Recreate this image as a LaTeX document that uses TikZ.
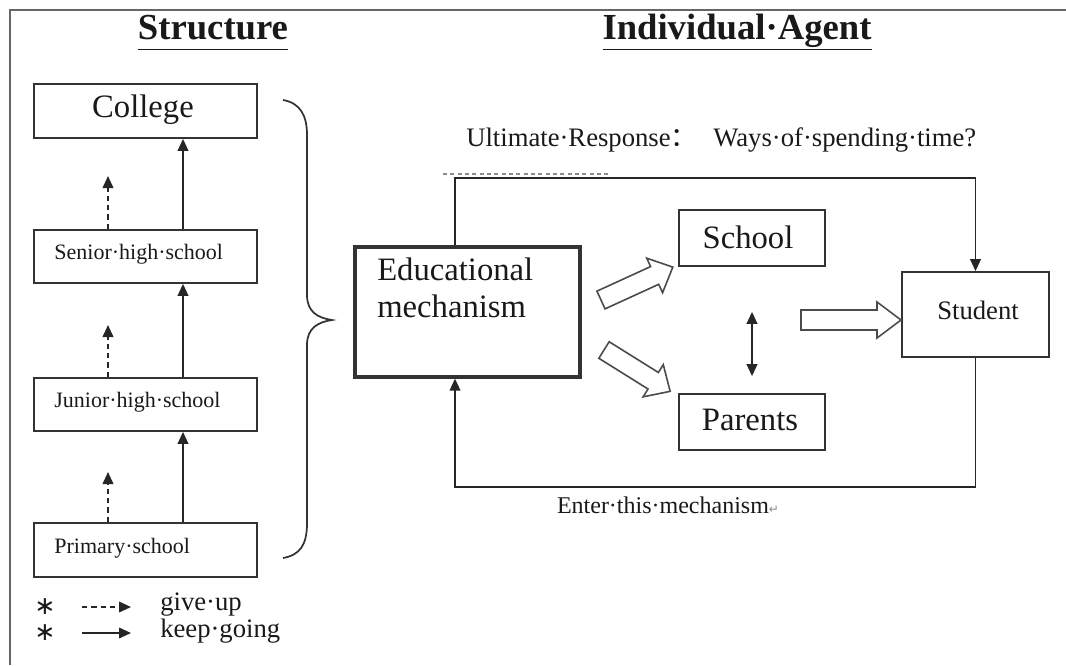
\documentclass[tikz,border=0pt]{standalone}
\usepackage{fontspec}
\setmainfont{Liberation Serif}
\newfontfamily\cjk{Noto Sans CJK SC}
\newfontfamily\djv{DejaVu Sans}
\usetikzlibrary{arrows.meta,calc}
\newcommand{\fTitle}{\fontsize{27.5}{30}\selectfont\bfseries}
\newcommand{\fBig}{\fontsize{24.5}{27.75}\selectfont}
\newcommand{\fSch}{\fontsize{16.5}{19}\selectfont}
\newcommand{\fStu}{\fontsize{20}{23}\selectfont}
\newcommand{\fUlt}{\fontsize{20}{22}\selectfont}
\newcommand{\fEnt}{\fontsize{18}{20}\selectfont}
\newcommand{\fLeg}{\fontsize{20}{23}\selectfont}
\newcommand{\fStar}{\djv\fontsize{19}{20}\selectfont}
\newcommand{\retmark}{{\djv\fontsize{9}{10}\selectfont\textcolor{black!45}{↵}}}
\begin{document}
\begin{tikzpicture}[x=0.75pt,y=-0.75pt,
  ln/.style={draw=black!80, line width=1.3pt},
  box/.style={draw=black!80, line width=1.3pt, rectangle, inner sep=0pt},
  txt/.style={text=black!90, inner sep=0pt},
  arr/.style={draw=black!85, line width=1.3pt, -{Triangle[length=9pt,width=8pt]}},
  dasharr/.style={arr, dash pattern=on 4pt off 3pt},
  dbl/.style={draw=black!85, line width=1.3pt, {Triangle[length=9pt,width=8pt]}-{Triangle[length=9pt,width=8pt]}},
  hol/.style={draw=black!70, line width=1.2pt, fill=white, line join=miter}
]
\useasboundingbox (0,0) rectangle (1066,665);

% frame
\draw[draw=black!60, line width=1.5pt] (1066,10) -- (10,10) -- (10,665);

% titles
\node[txt, font=\fTitle, anchor=base] (tstruct) at (213,39) {\underline{Structure\vphantom{g}}};
\node[txt, font=\fTitle, anchor=base] (tagent) at (737,39) {\underline{Individual·Agent\vphantom{g}}};

% structure boxes
\node[box, minimum width=167.25pt, minimum height=40.5pt] (col) at (145.5,111) {};
\node[txt, font=\fBig] (colt) at (143,110) {College};
\node[box, minimum width=167.25pt, minimum height=39.75pt] (sen) at (145.5,256.5) {};
\node[txt, font=\fSch, anchor=west] (sent) at ($(sen.west)+(21,-2)$) {Senior·high·school};
\node[box, minimum width=167.25pt, minimum height=39.75pt] (jun) at (145.5,404.5) {};
\node[txt, font=\fSch, anchor=west] (junt) at ($(jun.west)+(21,-2)$) {Junior·high·school};
\node[box, minimum width=167.25pt, minimum height=40.5pt] (pri) at (145.5,550) {};
\node[txt, font=\fSch, anchor=west] (prit) at ($(pri.west)+(21,-2)$) {Primary·school};

\coordinate (sx) at (183,0);
\coordinate (dx) at (108,0);
\draw[arr] (pri.north -| sx) -- (jun.south -| sx);
\draw[arr] (jun.north -| sx) -- (sen.south -| sx);
\draw[arr] (sen.north -| sx) -- (col.south -| sx);
\coordinate (d1) at (108,472);
\coordinate (d2) at (108,325);
\coordinate (d3) at (108,176);
\draw[dasharr] (pri.north -| dx) -- (d1);
\draw[dasharr] (jun.north -| dx) -- (d2);
\draw[dasharr] (sen.north -| dx) -- (d3);

% brace
\draw[ln] (283,100) .. controls (300,103) and (307,115) .. (307,135) -- (307,295)
  .. controls (307,312) and (318,318) .. (332,320)
  .. controls (318,322) and (307,328) .. (307,345) -- (307,523)
  .. controls (307,545) and (300,555) .. (283,558);

% legend
\node[txt, font=\fStar] (s1) at (45,607) {∗};
\node[txt, font=\fStar] (s2) at (45,633) {∗};
\coordinate (l1a) at (82,607); \coordinate (l1b) at (131,607);
\coordinate (l2a) at (82,633); \coordinate (l2b) at (131,633);
\draw[dasharr] (l1a) -- (l1b);
\draw[arr] (l2a) -- (l2b);
\node[txt, font=\fLeg, anchor=west] (g1) at (160,605) {give·up};
\node[txt, font=\fLeg, anchor=west] (g2) at (160,631) {keep·going};

% individual agent
\node[txt, font=\fUlt, anchor=west] (ult) at (466,140) {Ultimate·Response{\cjk ：}\hspace{0.6em}Ways·of·spending·time?};

\node[box, line width=2.4pt, minimum width=168.75pt, minimum height=97.5pt] (edu) at (467.5,312) {};
\node[txt, font=\fBig, anchor=north west, align=left] (edut) at (377,258) {Educational\\mechanism};

\node[box, minimum width=109.5pt, minimum height=42pt] (sch) at (752,238) {};
\node[txt, font=\fBig] (scht) at (748,237) {School};
\node[box, minimum width=109.5pt, minimum height=42pt] (par) at (752,422) {};
\node[txt, font=\fBig] (part) at (750,420) {Parents};
\node[box, minimum width=110.25pt, minimum height=63.75pt] (stu) at (975.5,314.5) {};
\node[txt, font=\fStu] (stut) at (978,310) {Student};

\draw[dbl] ($(sch.south)+(0,45)$) -- ($(par.north)+(0,-17)$);

% loop
\coordinate (lx) at (455,0);
\coordinate (tl) at (455,178);
\coordinate (bl) at (455,487);
\draw[arr] (edu.north -| lx) -- (tl) -| (stu.north);
\draw[arr] (stu.south) |- (bl) -- (edu.south -| lx);
\draw[draw=black!45, line width=0.8pt, dash pattern=on 3pt off 2.5pt] (443,174) -- (610,174);

\node[txt, font=\fEnt] (ent) at (668,505) {Enter·this·mechanism\retmark};

% hollow block arrows
\begin{scope}[shift={(601,300)}, rotate=24.6]
  \draw[hol] (0,-9.75) -- (59,-9.75) -- (59,-19) -- (79,0) -- (59,19) -- (59,9.75) -- (0,9.75) -- cycle;
\end{scope}
\begin{scope}[shift={(604,350)}, rotate=-32]
  \draw[hol] (0,-9.75) -- (58,-9.75) -- (58,-19) -- (78,0) -- (58,19) -- (58,9.75) -- (0,9.75) -- cycle;
\end{scope}
\begin{scope}[shift={(801,320)}]
  \draw[hol] (0,-10) -- (76,-10) -- (76,-18) -- (100,0) -- (76,18) -- (76,10) -- (0,10) -- cycle;
\end{scope}
\end{tikzpicture}
\end{document}
